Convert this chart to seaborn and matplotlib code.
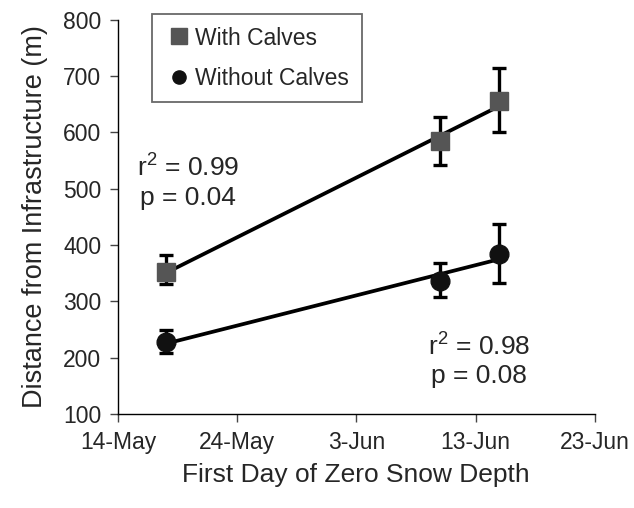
import numpy as np
import pandas as pd
import matplotlib
matplotlib.use("Agg")
import matplotlib.pyplot as plt
import matplotlib.dates as mdates
from matplotlib.lines import Line2D
import seaborn as sns

# -----------------------------
# Data
# -----------------------------
dates = ["2007-05-18", "2007-06-10", "2007-06-15"]

with_calves = [352, 584, 655]
with_lo = [330, 543, 601]
with_hi = [382, 627, 715]

without_calves = [227, 336, 385]
without_lo = [208, 307, 332]
without_hi = [249, 369, 438]

x_ticks = ["2007-05-14", "2007-05-24", "2007-06-03", "2007-06-13", "2007-06-23"]

x = mdates.date2num(pd.to_datetime(dates))
df = pd.DataFrame({"x": x, "with": with_calves, "without": without_calves})

sns.set_style("ticks")
plt.rcParams["font.family"] = ["Liberation Sans", "DejaVu Sans"]
plt.rcParams["mathtext.fontset"] = "custom"
plt.rcParams["mathtext.rm"] = "Liberation Sans"

fig = plt.figure(figsize=(6.34, 5.08), dpi=100)
ax = fig.add_axes([0.186, 0.185, 0.752, 0.776])

# regression lines
sns.regplot(data=df, x="x", y="with", ax=ax, scatter=False, ci=None,
            line_kws={"color": "black", "lw": 2.7, "zorder": 2})
sns.regplot(data=df, x="x", y="without", ax=ax, scatter=False, ci=None,
            line_kws={"color": "black", "lw": 2.7, "zorder": 2})

# points with error bars
w = np.array(with_calves)
wo = np.array(without_calves)
ax.errorbar(x, w, yerr=[w - np.array(with_lo), np.array(with_hi) - w],
            fmt="s", color="#555555", ecolor="black", markersize=13,
            elinewidth=2.4, capsize=5, capthick=2.4, zorder=3)
ax.errorbar(x, wo, yerr=[wo - np.array(without_lo), np.array(without_hi) - wo],
            fmt="o", color="#111111", ecolor="black", markersize=13.5,
            elinewidth=2.4, capsize=5, capthick=2.4, zorder=3)

ax.set_xlim(mdates.date2num(pd.Timestamp(x_ticks[0])),
            mdates.date2num(pd.Timestamp(x_ticks[-1])))
ax.set_ylim(100, 800)
ax.set_xticks(mdates.date2num(pd.to_datetime(x_ticks)))
ax.set_xticklabels([pd.Timestamp(t).strftime("%-d-%b") for t in x_ticks])
ax.set_yticks(range(100, 801, 100))

sns.despine(ax=ax)
for s in ["left", "bottom"]:
    ax.spines[s].set_color("black")
    ax.spines[s].set_linewidth(1)
ax.tick_params(axis="both", direction="out", length=6, width=1,
               color="#444444", labelsize=16.5, pad=6)

ax.set_xlabel("First Day of Zero Snow Depth", fontsize=19, labelpad=7)
ax.set_ylabel("Distance from Infrastructure (m)", fontsize=19.5, labelpad=11)

# fit statistics
ax.text(0.147, 0.59, "r$^2$ = 0.99\np = 0.04", transform=ax.transAxes,
        ha="center", va="center", fontsize=19, linespacing=1.25)
ax.text(0.757, 0.137, "r$^2$ = 0.98\np = 0.08", transform=ax.transAxes,
        ha="center", va="center", fontsize=19, linespacing=1.25)

handles = [
    Line2D([], [], marker="s", linestyle="none", color="#555555", markersize=11.5),
    Line2D([], [], marker="o", linestyle="none", color="#111111", markersize=9.5),
]
leg = ax.legend(handles, ["With Calves", "Without Calves"], loc="upper left",
                bbox_to_anchor=(0.071, 1.015), fontsize=16.5, frameon=True,
                fancybox=False, handletextpad=0.05, borderpad=0.55,
                labelspacing=0.75, handlelength=1.3, borderaxespad=0)
leg.get_frame().set_edgecolor("#444444")
leg.get_frame().set_linewidth(1.3)

fig.savefig("out.png", dpi=100)
